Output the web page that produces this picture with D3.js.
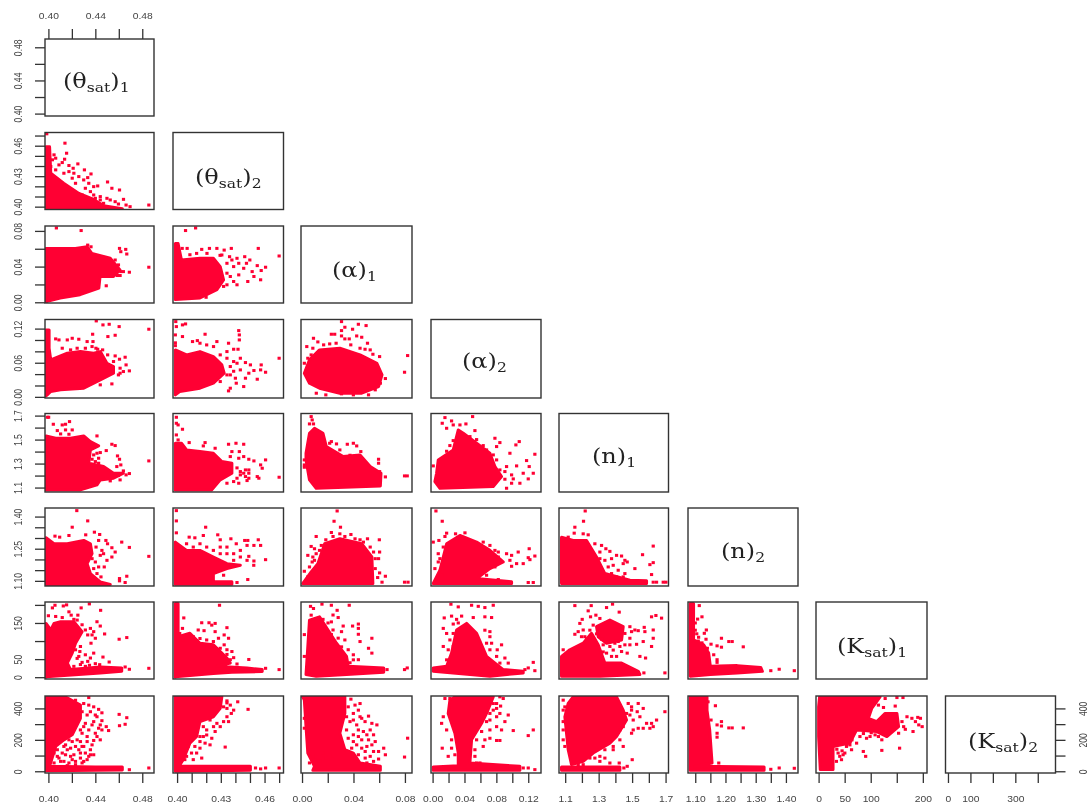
<!DOCTYPE html>
<html>
<head>
<meta charset="utf-8">
<script src="https://cdnjs.cloudflare.com/ajax/libs/d3/7.8.5/d3.min.js"></script>
<style>
body { margin: 0; background: #fff; }
svg { display: block; filter: blur(0.35px); }
</style>
</head>
<body>
<div id="chart"></div>
<script>
// variables, in pairs() order
var names = [["θ","sat","1"],["θ","sat","2"],["α","","1"],["α","","2"],["n","","1"],["n","","2"],["K","sat","1"],["K","sat","2"]];
var domains = [[.3971,.49],[.3972,.473],[-.0008,.0855],[-.002,.136],[1.063,1.7175],[1.076,1.44],[-5,208],[-11,479]];

// ticks on each axis, and the ones that carry a label
var ticks = [
  [.40,.42,.44,.46,.48],[.40,.41,.42,.43,.44,.45,.46,.47],[0,.02,.04,.06,.08],[0,.02,.04,.06,.08,.10,.12],
  [1.1,1.2,1.3,1.4,1.5,1.6,1.7],[1.10,1.15,1.20,1.25,1.30,1.35,1.40],[0,50,100,150,200],[0,100,200,300,400]];
var leftLabels = [["0.40","0.44","0.48"],["0.40","0.43","0.46"],["0.00","0.04","0.08"],["0.00","0.06","0.12"],
  ["1.1","1.3","1.5","1.7"],["1.10","1.25","1.40"],["0","50","150"],["0","200","400"]];
var bottomLabels = [["0.40","0.44","0.48"],["0.40","0.43","0.46"],["0.00","0.04","0.08"],["0.00","0.04","0.08","0.12"],
  ["1.1","1.3","1.5","1.7"],["1.10","1.20","1.30","1.40"],["0","50","100","200"],["0","100","300"]];
var decimals = [2,2,2,2,1,2,0,0];

// column 0: theta1 on x
var cloud_t2_t1 = [[.398,.398],[.398,.459],[.401,.459],[.402,.433],[.413,.423],[.426,.413],[.437,.408],[.447,.401],[.463,.398]];
var pts_t2_t1 = [[.3986,.4717],[.4141,.4625],[.4155,.4526],[.4138,.4467],[.4062,.4477],[.4118,.4434],[.4175,.4405],[.4251,.4421],[.4211,.4378],[.4307,.4362],[.4363,.4322],[.4335,.4286],[.442,.4204],[.4504,.4243],[.4541,.4181],[.4606,.4164],[.4442,.4099],[.44,.4082],[.4527,.4066],[.464,.4072],[.4662,.4016],[.4696,.40],[.4856,.4016],
  [.402,.4395],[.4062,.4362],[.409,.4411],[.4132,.4329],[.4175,.4345],[.4217,.4329],[.4203,.428],[.4259,.4296],[.4301,.4263],[.4231,.423],[.4344,.423],[.4386,.4197],[.4315,.4181],[.4358,.4148],[.4287,.4115],[.4386,.4115],[.4203,.4049],[.4442,.4066],[.4499,.4082],[.447,.4033],[.4569,.4049],[.4597,.4026],[.4006,.4493],[.4034,.4461],[.4048,.451]];

var cloud_a1_t1 = [[.398,.0604],[.406,.0604],[.423,.0604],[.433,.0622],[.437,.0548],[.4527,.0493],[.461,.0363],[.4555,.0289],[.444,.0289],[.443,.0159],[.427,.0085],[.41,.0048],[.399,.001],[.398,0]];
var pts_a1_t1 = [[.4068,.0833],[.4279,.0804],[.4335,.0641],[.4363,.0622],[.4606,.0604],[.4659,.0593],[.4617,.0567],[.4668,.0541],[.4569,.0474],[.4597,.0419],[.4856,.0393],[.469,.0337],[.4589,.03],[.4611,.03],[.4493,.0185],[.4617,.0344],[.4639,.0344]];

var cloud_a2_t1 = [[.398,.0018],[.398,.1177],[.4006,.1177],[.4006,.0855],[.402,.065],[.4161,.0767],[.4273,.0796],[.4386,.0767],[.4442,.0796],[.4499,.0591],[.4555,.0533],[.4555,.0416],[.4442,.0299],[.4301,.0152],[.4104,.0123],[.402,.0094],[.399,.0035]];
var pts_a2_t1 = [[.4408,.1335],[.4465,.1265],[.4518,.1276],[.4603,.1235],[.4856,.1189],[.4377,.1101],[.4569,.1083],[.4507,.106],[.438,.0972],[.4062,.1019],[.409,.1001],[.4161,.1001],[.4203,.103],[.4259,.1013],[.433,.0972],[.4372,.0884],[.442,.0837],[.4569,.072],[.4654,.0697],[.4606,.0662],[.4662,.0562],[.4611,.0504],[.469,.0457],[.4597,.0386],[.4541,.0228],[.4442,.0211],
  [.4118,.0855],[.4189,.0826],[.4245,.0855],[.4315,.0855],[.4405,.0855],[.4462,.0826],[.4505,.0738],[.4555,.0621],[.4611,.0416],[.4639,.0445]];

var cloud_n1_t1 = [[.398,1.0806],[.398,1.5306],[.4062,1.5111],[.4189,1.5111],[.4301,1.5306],[.4358,1.4833],[.4428,1.4472],[.4358,1.4139],[.4344,1.3028],[.447,1.275],[.4555,1.2194],[.4639,1.2194],[.4555,1.1778],[.4442,1.1639],[.4414,1.1222],[.4273,1.0806]];
var pts_n1_t1 = [[.3992,1.6861],[.4002,1.6861],[.4042,1.6278],[.4118,1.6222],[.4146,1.6278],[.418,1.65],[.4076,1.575],[.4104,1.5472],[.4146,1.5806],[.4203,1.5806],[.4175,1.5444],[.4414,1.5306],[.4541,1.4611],[.4569,1.45],[.4493,1.4083],[.4414,1.3861],[.4442,1.3917],[.4589,1.3639],[.4606,1.3361],[.4856,1.3222],[.4617,1.2889],[.4583,1.275],[.4639,1.2389],[.469,1.2167],[.4662,1.2056],[.4597,1.2],[.4611,1.1639],[.4527,1.1556],[.4428,1.3444],[.44,1.3167],
  [.4386,1.3722],[.4372,1.3361],[.4428,1.3028],[.4386,1.2889]];

var cloud_n2_t1 = [[.398,1.083],[.398,1.3009],[.4048,1.2731],[.4161,1.2731],[.4301,1.2886],[.4358,1.2731],[.4372,1.2267],[.433,1.1804],[.4358,1.134],[.4442,1.0954],[.4527,1.083]];
var pts_n2_t1 = [[.4242,1.4277],[.4335,1.3798],[.4203,1.3504],[.4056,1.3087],[.4096,1.304],[.4175,1.3117],[.4318,1.3148],[.4392,1.3272],[.4437,1.3164],[.449,1.2886],[.4504,1.2731],[.4625,1.2808],[.469,1.2561],[.4541,1.2546],[.4569,1.2345],[.4541,1.2113],[.4856,1.2144],[.4476,1.1649],[.4428,1.1649],[.44,1.1881],[.4442,1.219],[.4606,1.1108],[.4606,1.10],[.4668,1.1216],[.4654,1.0923],[.4499,1.1958],[.4448,1.1185],
  [.4406,1.2577],[.4428,1.2886],[.4456,1.2422],[.4386,1.1572],[.4372,1.2036],[.4414,1.1340],[.4470,1.2267]];

var cloud_k1_t1 = [[.398,0],[.398,148.8],[.402,130.6],[.4048,148.8],[.4104,153.4],[.4217,153.4],[.4287,126],[.4231,94],[.4203,66.6],[.4161,39.3],[.4189,21],[.4442,28.3],[.4625,25.6],[.4625,16.4],[.4442,11.9],[.398,1]];
var pts_k1_t1 = [[.4034,191.7],[.4056,199],[.4127,197],[.4155,200],[.4279,191.7],[.4349,202.7],[.4445,185],[.40,170],[.4175,180.8],[.4194,171.6],[.4251,171.6],[.4414,153.4],[.4442,141.5],[.4479,119.6],[.4603,105],[.4668,109.6],[.4315,130.6],[.4358,135],[.4386,126],[.4335,116.9],[.4372,116.9],[.44,107.7],[.4363,94],[.4273,84.9],[.4231,75.8],[.4268,71],[.4315,62],[.4386,66.6],[.4358,53],[.4465,55.7],[.4335,43.8],[.44,37.4],[.4437,34.7],[.4518,42],[.4654,28.3],[.469,21.9],[.4856,24.6],[.4287,41],[.4259,57.5],
  [.4118,165],[.4062,168],[.4217,160],[.4245,158],[.4287,145],[.4245,52],[.4217,30],[.4273,35],[.4315,30],[.435,33]];

var cloud_k2_t1 = [[.398,473],[.4146,473],[.4273,421],[.4273,337],[.4203,232],[.4132,200],[.4062,158],[.401,32],[.44,27],[.463,27],[.463,8],[.398,4]];
var pts_k2_t1 = [[.4344,469],[.4231,452],[.4301,431],[.4386,410],[.4344,421],[.4428,394],[.4456,372],[.4414,347],[.4456,322],[.4493,284],[.4513,259],[.4428,274],[.4372,295],[.4315,305],[.4344,263],[.44,242],[.4442,200],[.4386,196],[.433,221],[.4287,242],[.4273,189],[.4231,158],[.4175,200],[.4301,158],[.4358,137],[.4386,105],[.433,74],[.4273,116],[.4217,105],[.4161,137],[.4118,116],[.4076,95],[.4104,63],[.4175,53],[.4231,63],[.4287,53],[.4132,158],[.4603,362],[.4668,341],[.4654,299],[.4606,290],[.4856,21],[.469,10],[.4617,17],
  [.409,189],[.4146,168],[.4203,189],[.4245,200],[.4189,147],[.4076,137],[.4048,116],[.4146,105],[.4189,95],[.4259,137],[.4315,116],[.4358,105],[.409,84],[.402,74],[.4132,63],[.4203,74],[.4273,84],[.4344,95],[.4301,63],[.4048,53],[.4161,36],[.4231,42],[.4287,158],[.4372,168],[.433,189],[.4414,221],[.4456,263],[.4386,316],[.433,358],[.4287,379],[.4301,284],[.4273,263],[.4442,295],[.4358,379],[.44,358]];

// column 1: theta2 on x
var cloud_a1_t2 = [[.3988,.0659],[.3988,.003],[.4157,.0048],[.4273,.0141],[.4319,.0252],[.4296,.04],[.4249,.0493],[.4157,.0493],[.403,.0474],[.4007,.0659]];
var pts_a1_t2 = [[.4058,.0804],[.4127,.0833],[.4035,.0604],[.4069,.0604],[.4169,.0593],[.4222,.0604],[.4273,.0604],[.4323,.0585],[.4372,.0604],[.4557,.0604],[.47,.0519],[.4307,.053],[.436,.0511],[.4411,.0493],[.4464,.0511],[.4499,.0474],[.4476,.0437],[.455,.0411],[.4607,.0393],[.4577,.0356],[.4515,.0344],[.4457,.0381],[.4423,.0307],[.4527,.0289],[.4485,.0233],[.4573,.0252],[.4388,.0233],[.4411,.0196],[.4342,.0196],[.4365,.0289],[.4199,.0056],[.4319,.0178],
  [.4342,.0437],[.4388,.04],[.4342,.0326],[.4423,.0437],[.4376,.0474],[.4295,.0526],[.4134,.0548],[.4088,.0533],[.4205,.0548]];

var cloud_a2_t2 = [[.3988,.0035],[.3988,.0826],[.4065,.0738],[.4157,.0796],[.4249,.0708],[.4307,.0562],[.4323,.0416],[.4249,.024],[.4157,.0152],[.4018,.0094]];
var pts_a2_t2 = [[.3991,.1323],[.3995,.1235],[.4037,.1265],[.4058,.1282],[.3988,.1089],[.4037,.106],[.4192,.1101],[.4423,.1165],[.4427,.1089],[.4427,.1001],[.4106,.0972],[.4139,.0989],[.4157,.0943],[.4203,.0913],[.4273,.0972],[.4353,.0943],[.425,.0884],[.4388,.0837],[.4418,.0837],[.4342,.0796],[.4434,.0679],[.47,.0679],[.4469,.0603],[.4503,.0562],[.4577,.0562],[.4573,.0474],[.4527,.0463],[.4607,.0433],[.4492,.0416],[.455,.031],[.4469,.0328],[.44,.0328],[.4365,.0533],[.4342,.0386],[.4434,.0474],[.4388,.0621],[.4406,.024],[.4457,.0181],[.4365,.0152],[.4353,.0105],[.4296,.0269],
  [.3988,.095],[.3988,.09],[.4296,.0738],[.4342,.0679],[.4388,.045],[.4411,.0591],[.4365,.0386]];

var cloud_n1_t2 = [[.3988,1.0806],[.3988,1.4694],[.403,1.4694],[.4065,1.4139],[.4157,1.4],[.4249,1.3861],[.4307,1.3167],[.4376,1.3028],[.4376,1.2194],[.4296,1.1639],[.4238,1.0806]];
var pts_n1_t2 = [[.3995,1.6861],[.3995,1.6361],[.4007,1.6222],[.4037,1.5861],[.3995,1.5389],[.4007,1.4972],[.4083,1.475],[.4192,1.475],[.418,1.4472],[.4261,1.4278],[.4353,1.4611],[.4404,1.4694],[.4457,1.4611],[.4376,1.4],[.4427,1.4],[.4365,1.3583],[.4423,1.3444],[.4457,1.3583],[.4492,1.3361],[.4527,1.3222],[.4607,1.3306],[.4573,1.2889],[.4584,1.2611],[.4469,1.2472],[.4492,1.2194],[.4469,1.1917],[.4434,1.2333],[.455,1.1917],[.4561,1.1778],[.47,1.1861],[.4423,1.1361],[.4388,1.15],[.448,1.1583],[.4342,1.1361],
  [.4434,1.2056],[.4492,1.1778],[.4411,1.2639],[.4411,1.1778],[.4457,1.2194],[.4492,1.2472]];

var cloud_n2_t2 = [[.3988,1.0876],[.3988,1.2808],[.4065,1.2422],[.4157,1.2422],[.4249,1.2113],[.4342,1.1804],[.4434,1.1726],[.4342,1.1572],[.4249,1.134],[.4249,1.0954],[.4376,1.0954],[.4376,1.0845],[.3988,1.0845]];
var pts_n2_t2 = [[.3995,1.4277],[.3995,1.3798],[.3995,1.3241],[.4196,1.3504],[.4083,1.304],[.4122,1.3009],[.418,1.3117],[.4279,1.3148],[.4296,1.2917],[.4369,1.2963],[.4406,1.2731],[.4464,1.2886],[.4485,1.2886],[.4557,1.2917],[.448,1.2654],[.4527,1.2654],[.4573,1.2654],[.4342,1.2577],[.4434,1.2422],[.4388,1.2267],[.4492,1.2144],[.4527,1.1927],[.4607,1.1989],[.4485,1.1062],[.4411,1.0923],[.4319,1.1263],
  [.4065,1.2731],[.4111,1.2577],[.4157,1.2731],[.4203,1.2577],[.4249,1.2422],[.4296,1.2577],[.4342,1.2267],[.4296,1.2267],[.4388,1.1958],[.4434,1.2113],[.448,1.1958],[.4526,1.1726]];

var cloud_k1_t2 = [[.3988,0],[.3988,203.6],[.4007,203.6],[.4007,112.3],[.4088,121.4],[.4157,94],[.4249,89.5],[.4342,53],[.4365,39.3],[.4273,30],[.448,25.6],[.4584,21],[.4584,15.5],[.4376,13.7],[.4249,10],[.3988,1]];
var pts_k1_t2 = [[.4291,199],[.4046,164],[.4169,150.6],[.4219,150.6],[.4261,148.8],[.4238,144],[.4342,137],[.4037,135],[.4145,130.6],[.4185,128.7],[.4261,126],[.4323,116.9],[.4284,107.7],[.4353,107.7],[.4249,98.6],[.4323,89.5],[.4376,71],[.4492,49],[.4411,36.5],[.4607,24.6],[.47,21],[.4365,48.4],[.4018,121],[.4042,103],
  [.4111,112],[.4157,107],[.4203,103],[.4296,80],[.4342,76],[.4342,63],[.4388,54]];

var cloud_k2_t2 = [[.3988,473.6],[.4307,473.6],[.4296,400],[.4249,347],[.4157,315.8],[.4134,221],[.4088,179],[.4042,73.7],[.4012,31.6],[.4503,31.6],[.4503,6.3],[.3988,0]];
var pts_k2_t2 = [[.4342,448],[.4416,442],[.4319,410],[.4365,421],[.4487,394],[.4372,368],[.4342,347],[.4353,316],[.4296,284],[.4226,326],[.425,284],[.4203,263],[.418,221],[.4238,210],[.4226,168],[.4192,179],[.4157,147],[.4134,116],[.4169,84],[.4111,74],[.433,154],[.4538,21],[.4573,15],[.4607,21],[.47,21],
  [.4042,137],[.4076,158],[.4099,116],[.4065,95],[.4053,74],[.4157,221],[.4203,231],[.418,284],[.4273,305],[.4319,316],[.4261,253],[.4157,189],[.4122,158],[.4018,305],[.4018,200],[.4342,400],[.4388,389],[.4342,435]];

// column 2: alpha1 on x
var cloud_a2_a1 = [[.0018,.0416],[.0058,.065],[.0136,.0826],[.0294,.0855],[.0451,.0738],[.0582,.0591],[.0622,.0386],[.0595,.0181],[.0464,.0064],[.0294,.0064],[.0136,.0152],[.0058,.024]];
var pts_a2_a1 = [[.0307,.1323],[.0438,.1276],[.0498,.1253],[.0333,.1224],[.0393,.1189],[.0307,.1165],[.0228,.1101],[.0254,.1101],[.0425,.1071],[.0464,.1048],[.0307,.1071],[.0333,.1019],[.0367,.1019],[.0089,.103],[.0123,.0966],[.0215,.0931],[.0037,.0884],[.049,.0837],[.0509,.0943],[.053,.0826],[.0551,.0749],[.0603,.0708],[.0821,.0726],[.0797,.0433],[.0648,.0322],[.0018,.0591],[.0609,.024],[.0569,.0123],[.0307,.0053],[.0595,.0445],
  [.0084,.0855],[.0168,.0914],[.0265,.0943],[.0379,.0914],[.0451,.0855],[.0071,.0738],[.0045,.0679],[.0111,.0064],[.0185,.0035],[.0399,.0035],[.0517,.0035]];

var cloud_n1_a1 = [[.0031,1.3861],[.0058,1.5528],[.0097,1.5944],[.0163,1.5528],[.0189,1.4417],[.032,1.3583],[.0451,1.3722],[.053,1.275],[.0614,1.2194],[.0609,1.1139],[.011,1.0944],[.0058,1.1639],[.0031,1.3306]];
var pts_n1_a1 = [[.0071,1.6917],[.0079,1.6639],[.0058,1.6306],[.0089,1.6306],[.0228,1.4833],[.0268,1.4639],[.0352,1.4611],[.0399,1.4694],[.0425,1.4472],[.0294,1.4139],[.0373,1.3694],[.0412,1.3639],[.0457,1.4],[.0595,1.3361],[.0595,1.3028],[.0603,1.2333],[.0648,1.1889],[.0797,1.1972],[.0818,1.1972],[.0018,1.3306],[.0018,1.2889],[.0018,1.2694],[.0215,1.4694]];

var cloud_n2_a1 = [[.0005,1.0876],[.0071,1.1417],[.0123,1.1804],[.0176,1.2731],[.0294,1.2963],[.0464,1.2731],[.0543,1.2113],[.0551,1.0876]];
var pts_n2_a1 = [[.0273,1.4261],[.0249,1.3782],[.0299,1.3504],[.0228,1.3257],[.0294,1.3195],[.011,1.3071],[.038,1.3164],[.0071,1.2607],[.0097,1.2499],[.0045,1.219],[.0084,1.2113],[.0079,1.1881],[.0509,1.2963],[.0601,1.2917],[.0451,1.2917],[.053,1.2577],[.0603,1.2345],[.0595,1.2036],[.0569,1.1572],[.0603,1.1371],[.0648,1.1216],[.0588,1.1155],[.0622,1.0938],[.0797,1.0938],[.0824,1.0938],[.0018,1.1448],[.053,1.1726],
  [.0045,1.1185],[.0058,1.165],[.0097,1.1958],[.011,1.2267],[.0136,1.2422],[.015,1.2654],[.0185,1.2917],[.0241,1.3071],[.0333,1.3071],[.0412,1.2963],[.0477,1.2808],[.0556,1.2345],[.0569,1.2036]];

var cloud_k1_a1 = [[.0031,7.3],[.0045,84.9],[.0058,158],[.0136,167],[.0202,130.6],[.0268,94],[.0346,57.5],[.0359,30],[.0635,25.6],[.0635,13.7],[.0346,7.3],[.011,2.7]];
var pts_k1_a1 = [[.0066,196],[.0155,202],[.0228,199],[.0367,199],[.0089,190],[.0273,185],[.0071,171.6],[.0281,165],[.0228,153],[.032,141.5],[.0393,141.5],[.0438,147],[.0438,135],[.0438,118.7],[.0241,130.6],[.0307,126],[.0451,98.6],[.0543,107.7],[.0517,80],[.0543,66.6],[.0399,62],[.0438,48.4],[.0018,117.8],[.0018,57.5],[.0818,25.6],[.0797,21],[.0661,21],
  [.0241,172],[.0163,160],[.0202,150],[.0228,118],[.0281,108],[.0333,103],[.0307,84],[.0359,76],[.0399,48],[.0373,40]];

var cloud_k2_a1 = [[.0005,473.6],[.0333,473.6],[.0333,368],[.0294,242],[.0333,137],[.0399,116],[.0451,52.6],[.0609,31.6],[.0609,6.3],[.0084,6.3],[.0097,31.6],[.0045,116],[.0031,284],[.0018,452.6]];
var pts_k2_a1 = [[.038,459],[.0451,431],[.0438,389],[.0399,368],[.0517,351],[.0464,337],[.0373,316],[.0425,295],[.0582,295],[.053,263],[.0477,253],[.0556,232],[.0438,221],[.0517,200],[.0399,189],[.0543,168],[.0464,147],[.0635,147],[.0595,126],[.0648,105],[.053,95],[.0595,78],[.0491,84],[.0163,116],[.0097,74],[.0189,84],[.0136,63],[.0241,95],[.0821,210.5],[.0797,90.5],[.0018,337],[.0018,274],
  [.0359,410],[.0412,421],[.0346,347],[.0399,326],[.0451,347],[.049,316],[.0543,305],[.0346,263],[.0438,263],[.0504,232],[.0464,200],[.0399,232],[.0359,210],[.0569,189],[.0504,158],[.0425,168],[.0386,147],[.0556,126],[.0491,126],[.0438,105],[.0504,53],[.0556,63],[.0084,95],[.0058,53]];

// column 3: alpha2 on x
var cloud_n1_a2 = [[.005,1.2194],[.0071,1.3306],[.0259,1.4139],[.0322,1.5806],[.0385,1.5528],[.0552,1.4694],[.0719,1.3861],[.0782,1.275],[.0865,1.1917],[.0761,1.1083],[.0092,1.0944],[.0029,1.15]];
var pts_n1_a2 = [[.0155,1.6833],[.0502,1.6917],[.0121,1.6361],[.0238,1.6556],[.0176,1.5944],[.0259,1.6222],[.0343,1.6222],[.0418,1.6306],[.0531,1.575],[.0782,1.5111],[.0844,1.475],[.0803,1.4417],[.1087,1.4833],[.1045,1.4556],[.097,1.3861],[.1283,1.3778],[.1179,1.325],[.1212,1.275],[.1137,1.2194],[.1263,1.2194],[.12,1.1722],[.0928,1.275],[.0907,1.2333],[.1054,1.2806],[.0991,1.2056],[.0907,1.1694],[.1012,1.1722],[.1095,1.1361],[.0928,1.0944],[.0991,1.1361],[.0008,1.2806],
  [.0217,1.45],[.0176,1.4028],[.0259,1.4917],[.0468,1.525],[.0552,1.5],[.0635,1.45],[.0677,1.4139],[.0761,1.3722],[.0803,1.3306],[.0844,1.2472]];

var cloud_n2_a2 = [[.0008,1.0876],[.0092,1.1495],[.0176,1.2731],[.0343,1.3117],[.0552,1.2808],[.0719,1.2422],[.0886,1.1881],[.0719,1.1572],[.0552,1.1108],[.0991,1.0954],[.0991,1.0876]];
var pts_n2_a2 = [[.0042,1.4261],[.0121,1.3782],[.0176,1.3226],[.0288,1.3195],[.0406,1.3241],[.0008,1.2808],[.0079,1.2886],[.0155,1.3071],[.0071,1.2267],[.0071,1.1881],[.0029,1.1572],[.0113,1.1263],[.0824,1.2345],[.0928,1.2267],[.0991,1.219],[.1074,1.2345],[.1212,1.2499],[.1283,1.2159],[.12,1.2082],[.097,1.1958],[.1054,1.1804],[.1137,1.1804],[.1221,1.1989],[.0991,1.168],[.0824,1.1062],[.12,1.0923],[.1263,1.0923],[.0677,1.1263],
  [.0134,1.2577],[.0092,1.2036],[.0113,1.1726],[.0155,1.2267],[.0635,1.2808],[.0719,1.2654],[.0782,1.2422],[.0824,1.2113],[.0782,1.1649]];

var cloud_k1_a2 = [[.0008,25.6],[.0176,30],[.0238,66.6],[.0301,130.6],[.0426,148.8],[.0552,121.4],[.0677,57.5],[.0886,21],[.1137,16.4],[.1137,11.9],[.0719,2.7],[.0008,16.4]];
var pts_k1_a2 = [[.023,201.8],[.0322,194.5],[.0489,199],[.0573,196],[.0656,192.6],[.0761,199],[.0146,164],[.0238,169],[.0364,169],[.051,165],[.074,165],[.0656,167],[.0259,147],[.0134,135],[.0719,126],[.0176,121],[.0217,103],[.0134,85],[.0196,75.8],[.0865,89.5],[.0811,75.8],[.0907,53],[.0949,39],[.1263,41],[.12,25.6],[.1283,18],[.1158,21],[.074,94],[.0176,48],
  [.0259,85],[.0259,121],[.0677,94],[.0719,75.8],[.0803,57.5],[.0844,39],[.0782,35],[.0719,112],[.0656,130],[.0322,150],[.0301,160]];

var cloud_k2_a2 = [[.028,473.6],[.0761,473.6],[.0677,368],[.0615,305],[.0489,200],[.0468,52.6],[.1095,31.6],[.1095,6.3],[.0008,6.3],[.0008,27],[.0322,35.8],[.0322,116],[.028,242],[.0196,368],[.0217,452.6]];
var pts_k2_a2 = [[.0155,463],[.0217,463],[.0844,473.6],[.0886,463],[.0803,431],[.0853,415],[.0761,389],[.0844,368],[.0803,347],[.0949,358],[.0907,316],[.0719,326],[.0134,347],[.0113,305],[.0176,263],[.0238,200],[.0121,147],[.0238,147],[.0196,95],[.028,105],[.0594,53],[.0531,137],[.0635,158],[.0656,200],[.0719,210],[.0803,196],[.0844,196],[.0865,263],[.1012,259],[.1263,263],[.12,227],[.1283,10.5],[.12,21],[.1137,21],[.0803,284],[.0719,263],
  [.0719,368],[.0677,316],[.0615,253],[.0552,200],[.0531,95],[.0552,53],[.0761,431],[.0803,400]];

// column 4: n1 on x
var cloud_n2_n1 = [[1.0781,1.0876],[1.0781,1.304],[1.1478,1.2886],[1.2276,1.2886],[1.2874,1.2113],[1.3372,1.134],[1.4867,1.1031],[1.5863,1.10],[1.5863,1.0876]];
var pts_n2_n1 = [[1.2196,1.4261],[1.2096,1.3782],[1.1578,1.3504],[1.1538,1.3226],[1.2076,1.3195],[1.2375,1.3148],[1.2774,1.2731],[1.3173,1.2654],[1.3432,1.2499],[1.3671,1.2376],[1.3073,1.2345],[1.407,1.219],[1.4369,1.2159],[1.3771,1.2036],[1.4707,1.1881],[1.4468,1.1804],[1.387,1.1726],[1.5166,1.1572],[1.4169,1.1495],[1.4568,1.134],[1.6262,1.2623],[1.5624,1.2221],[1.6262,1.185],[1.6063,1.1757],[1.6162,1.1294],[1.6262,1.0938],[1.6461,1.0938],[1.686,1.0938],[1.702,1.0938],
  [1.3372,1.1958],[1.3572,1.1649],[1.3771,1.134],[1.407,1.1185],[1.3073,1.2036],[1.4568,1.1958],[1.4468,1.1185],[1.1179,1.3040]];

var cloud_k1_n1 = [[1.0781,2.7],[1.0781,57.5],[1.1279,75.8],[1.2076,94],[1.2575,121.4],[1.2973,89.5],[1.3372,39],[1.4369,39],[1.5365,16.4],[1.5465,7.3],[1.3073,2.7]];
var cloudB_k1_n1 = [[1.2874,139.7],[1.3671,158],[1.4468,139.7],[1.4369,103],[1.3472,94],[1.2973,112]];
var pts_k1_n1 = [[1.1578,198],[1.2555,198],[1.383,202],[1.3472,192.6],[1.2375,183.5],[1.4229,180],[1.2017,160],[1.2515,167],[1.2834,171.6],[1.3073,162.5],[1.1876,148.8],[1.2674,144],[1.1777,126],[1.2076,130.6],[1.1578,118.7],[1.2176,112],[1.6162,167],[1.6422,170.7],[1.676,163.4],[1.4867,139.7],[1.5166,130.6],[1.5365,128.7],[1.5724,137.9],[1.6262,130.6],[1.4967,126],[1.5764,126],[1.6262,107.7],[1.6162,85],[1.5664,98.6],[1.4867,107.7],[1.5266,91],[1.4867,89.5],[1.4269,85],[1.4369,71],[1.4707,66.6],[1.5465,57.5],[1.5804,53],[1.5704,11.9],[1.696,11.9],[1.088,75.8],[1.108,57.5],[1.407,57.5],
  [1.3671,85],[1.397,94],[1.3472,66.6],[1.377,57.5],[1.4169,98.6],[1.4568,89.5],[1.4568,121],[1.3272,89.5],[1.3173,105],[1.2874,120],[1.2475,130],[1.3272,70],[1.3871,75],[1.2276,105],[1.1976,112]];

var cloud_k2_n1 = [[1.1478,473.6],[1.407,473.6],[1.4468,389],[1.4667,326],[1.407,221],[1.3671,179],[1.2674,116],[1.2076,63],[1.1379,42],[1.1179,137],[1.108,242],[1.098,347],[1.1179,431.5]];
var cloudB_k2_n1 = [[1.0781,27],[1.4269,27],[1.4269,6.3],[1.0781,6.3]];
var pts_k2_n1 = [[1.4767,431.5],[1.5365,431.5],[1.4967,410],[1.5664,400],[1.5305,379],[1.4867,358],[1.5465,347],[1.5066,326],[1.696,379],[1.6461,326],[1.6162,305],[1.6262,284],[1.5864,305],[1.5664,273.6],[1.6063,273.6],[1.5066,263],[1.5365,273.6],[1.4967,242],[1.4468,158],[1.387,137],[1.5006,73.7],[1.4229,52.6],[1.3671,52.6],[1.3372,84],[1.2774,84],[1.3073,95],[1.088,452.6],[1.088,389],[1.088,316],[1.088,200],[1.098,158],[1.4707,31.6],[1.4508,21],
  [1.088,263],[1.098,410],[1.3073,63],[1.3372,137],[1.4269,263],[1.4468,284],[1.4668,368],[1.4967,389],[1.4269,200],[1.3871,158],[1.2475,84],[1.2076,42],[1.1778,42]];

// column 5: n2 on x
var cloud_k1_n2 = [[1.0833,2.7],[1.0833,203.6],[1.0944,203.6],[1.0944,103],[1.1278,89.5],[1.1444,66.6],[1.15,30],[1.2389,32],[1.3167,27],[1.3222,16.4],[1.2389,11.9],[1.15,7.3]];
var pts_k1_n2 = [[1.1133,198],[1.1222,167],[1.1078,160.7],[1.1367,130.6],[1.13,121.4],[1.1111,110.5],[1.1356,105],[1.1522,91.3],[1.1722,86.7],[1.1867,107.7],[1.2111,98.6],[1.2222,98.6],[1.1867,83],[1.2589,84],[1.1722,48.4],[1.1722,41],[1.35,18],[1.3778,22],[1.4278,18],[1.1611,62],
  [1.1,150],[1.1,130],[1.105,120],[1.11,100],[1.1222,95],[1.14,80]];

var cloud_k2_n2 = [[1.0833,473.6],[1.1389,473.6],[1.1389,389],[1.1478,263],[1.1556,52.6],[1.10,31.6],[1.3278,27],[1.3278,6.3],[1.0833,6.3]];
var pts_k2_n2 = [[1.1422,442],[1.1667,417],[1.1522,326],[1.1722,295],[1.1867,316],[1.1867,288],[1.2111,276],[1.2222,276],[1.2589,276],[1.1722,242],[1.1722,217],[1.1778,52.6],[1.35,12.6],[1.3778,21],[1.4278,19],[1.0889,19]];

// column 6: K1 on x
var cloud_k2_k1 = [[1.9,473.6],[118,473.6],[101.9,400],[95.5,336.8],[111.6,315.8],[127.7,368],[150.3,368],[153.5,284],[131,221],[111.6,252.6],[72.9,263],[60,179],[27.7,158],[27.7,10.5],[3.2,10.5],[0,221],[0,410]];
var pts_k2_k1 = [[127.7,463],[150.3,469],[161.9,469],[114.8,421],[124.5,406],[147,415],[169.6,347],[179,337],[190.3,343],[195.4,337],[185.8,316],[198.7,284],[192.2,295],[181.2,253],[163.2,284],[166.4,267],[160,316],[153.5,242],[155.4,147],[121.3,133],[85.8,126],[90.3,95],[63.2,137],[79.3,221],[98.7,221],[108.4,231.6],[121.3,200],[114.8,221],[72.9,179],[43.9,73.7],[34.2,63],[40.6,95],[47,105],
  [53.5,158],[40.6,179],[60,168],[50.3,116],[37.4,116],[86,240],[92,210],[101,245],[64,200],[35,140],[45,130]];

// [row, col, solid parts of the cloud, separate points]
var panels = [
  [1,0,[cloud_t2_t1],pts_t2_t1],
  [2,0,[cloud_a1_t1],pts_a1_t1],[2,1,[cloud_a1_t2],pts_a1_t2],
  [3,0,[cloud_a2_t1],pts_a2_t1],[3,1,[cloud_a2_t2],pts_a2_t2],[3,2,[cloud_a2_a1],pts_a2_a1],
  [4,0,[cloud_n1_t1],pts_n1_t1],[4,1,[cloud_n1_t2],pts_n1_t2],[4,2,[cloud_n1_a1],pts_n1_a1],[4,3,[cloud_n1_a2],pts_n1_a2],
  [5,0,[cloud_n2_t1],pts_n2_t1],[5,1,[cloud_n2_t2],pts_n2_t2],[5,2,[cloud_n2_a1],pts_n2_a1],[5,3,[cloud_n2_a2],pts_n2_a2],[5,4,[cloud_n2_n1],pts_n2_n1],
  [6,0,[cloud_k1_t1],pts_k1_t1],[6,1,[cloud_k1_t2],pts_k1_t2],[6,2,[cloud_k1_a1],pts_k1_a1],[6,3,[cloud_k1_a2],pts_k1_a2],[6,4,[cloud_k1_n1,cloudB_k1_n1],pts_k1_n1],[6,5,[cloud_k1_n2],pts_k1_n2],
  [7,0,[cloud_k2_t1],pts_k2_t1],[7,1,[cloud_k2_t2],pts_k2_t2],[7,2,[cloud_k2_a1],pts_k2_a1],[7,3,[cloud_k2_a2],pts_k2_a2],[7,4,[cloud_k2_n1,cloudB_k2_n1],pts_k2_n1],[7,5,[cloud_k2_n2],pts_k2_n2],[7,6,[cloud_k2_k1],pts_k2_k1]
];

// frame of every panel on the page
var colEdges = [[45,154],[173,283.5],[301,412],[431,541],[559,668.5],[688,798],[816,927],[945.5,1055.5]];
var rowEdges = [[39,116],[132.5,209.5],[226,303],[319.5,398],[413.5,492],[508,586],[602,679],[696,773]];
var labelStart = [63,195,332,462,592,721,837,968];
var labelBase = [88,184,277,368,463,558,653,748];

var red = "#ff0033", ink = "#333";

var svg = d3.select("#chart").append("svg").attr("width",1091).attr("height",805);

function xScale(c){ return d3.scaleLinear().domain(domains[c]).range(colEdges[c]); }
function yScale(r){ return d3.scaleLinear().domain(domains[r]).range([rowEdges[r][1],rowEdges[r][0]]); }

function styleTicks(g){
  g.select(".domain").remove();
  g.selectAll(".tick line").attr("stroke",ink).attr("stroke-width",1.3);
  g.selectAll("text").attr("fill","#444").style("font-family","'Liberation Sans',Arial,sans-serif").style("font-size","8.6px")
    .attr("text-anchor","middle").attr("x",0).attr("y",0).attr("dy",".35em");
}

function fmt(c,labels){
  return function(d){ var s = d.toFixed(decimals[c]); return labels.indexOf(s) >= 0 ? s : ""; };
}

// horizontal axis; labels are wider than tall in the picture
function hAxis(c,r,gen,off){
  var g = svg.append("g").attr("transform","translate(0,"+(gen === d3.axisBottom ? rowEdges[r][1] : rowEdges[r][0])+")")
    .call(gen(xScale(c)).tickValues(ticks[c]).tickSizeOuter(0).tickSize(10).tickFormat(fmt(c,bottomLabels[c])));
  styleTicks(g);
  g.selectAll("text").attr("transform","translate(0,"+off+") scale(1.2,1)");
}
// vertical axis with turned labels
function vAxis(r,c,gen,off){
  var g = svg.append("g").attr("transform","translate("+(gen === d3.axisLeft ? colEdges[c][0] : colEdges[c][1])+",0)")
    .call(gen(yScale(r)).tickValues(ticks[r]).tickSizeOuter(0).tickSize(10).tickFormat(fmt(r,leftLabels[r])));
  styleTicks(g);
  g.selectAll("text").attr("transform","translate("+off+",0) scale(1.2,1) rotate(-90)");
}

hAxis(0,0,d3.axisTop,-23.5);
d3.range(8).forEach(function(i){
  hAxis(i,7,d3.axisBottom,26);
  vAxis(i,0,d3.axisLeft,-27);
});
vAxis(7,7,d3.axisRight,27.5);

var line = d3.line();
var defs = svg.append("defs");

panels.forEach(function(p,i){
  var x = xScale(p[1]), y = yScale(p[0]);
  defs.append("clipPath").attr("id","clip"+i).append("rect")
    .attr("x",colEdges[p[1]][0]).attr("y",rowEdges[p[0]][0])
    .attr("width",colEdges[p[1]][1]-colEdges[p[1]][0]).attr("height",rowEdges[p[0]][1]-rowEdges[p[0]][0]);
  var g = svg.append("g").attr("clip-path","url(#clip"+i+")");
  g.selectAll("path").data(p[2]).enter().append("path")
    .attr("d",function(d){ return line(d.map(function(v){ return [x(v[0]),y(v[1])]; }))+"Z"; })
    .attr("fill",red).attr("stroke",red).attr("stroke-width",3).attr("stroke-linejoin","round");
  g.selectAll("rect").data(p[3]).enter().append("rect")
    .attr("x",function(d){ return x(d[0])-1.6; })
    .attr("y",function(d){ return y(d[1])-1.5; })
    .attr("width",3.2).attr("height",3)
    .attr("fill",red);
});

// frames on top of the points
d3.range(8).forEach(function(r){
  d3.range(r+1).forEach(function(c){
    svg.append("rect")
      .attr("x",colEdges[c][0]).attr("y",rowEdges[r][0])
      .attr("width",colEdges[c][1]-colEdges[c][0]).attr("height",rowEdges[r][1]-rowEdges[r][0])
      .attr("fill","none").attr("stroke",ink).attr("stroke-width",1.4);
  });
});

// names on the diagonal; the lettering is stretched sideways in the picture
names.forEach(function(n,i){
  var t = svg.append("text").attr("transform","translate("+labelStart[i]+","+labelBase[i]+") scale(1.2,1)")
    .style("font-family","'DejaVu Serif','Liberation Serif',serif").style("font-size","20px").attr("fill","#222");
  t.append("tspan").text("("+n[0]);
  if (n[1]) t.append("tspan").text(n[1]).style("font-size","13px").attr("dy",4);
  t.append("tspan").text(")").attr("dy",n[1] ? -4 : 0);
  t.append("tspan").text(n[2]).style("font-size","13px").attr("dy",4);
});
</script>
</body>
</html>
